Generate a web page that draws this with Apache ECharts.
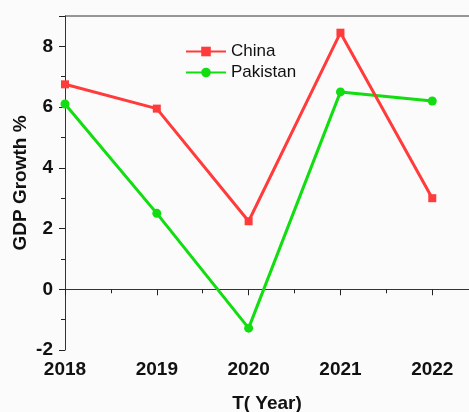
<!DOCTYPE html>
<html>
<head>
<meta charset="utf-8">
<script src="https://cdn.jsdelivr.net/npm/echarts@6/dist/echarts.min.js"></script>
<style>
    html, body { margin: 0; padding: 0; background: #fbfbfb; }
    #chart { width: 469px; height: 412px; }
</style>
</head>
<body>
<div id="chart"></div>
<script>
const years = [2018, 2019, 2020, 2021, 2022];
const chinaGrowth = [6.75, 5.95, 2.24, 8.45, 3.0];
const pakistanGrowth = [6.1, 2.5, -1.28, 6.5, 6.2];
const yTicks = [-2, 0, 2, 4, 6, 8];

const toPairs = vals => years.map((y, i) => [y, vals[i]]);

window.onload = () => {
    let chart = echarts.init(document.getElementById('chart'));
    let labelFont = {
        fontFamily: 'Liberation Sans, Arial, sans-serif',
        fontWeight: 'bold',
        fontSize: 19,
        color: '#111'
    };
    let option = {
        backgroundColor: '#fbfbfb',
        animation: false,
        grid: { left: 65, right: 0, top: 16, bottom: 62, outerBoundsMode: 'none', containLabel: false },
        legend: {
            orient: 'vertical',
            left: 180,
            top: 38,
            itemWidth: 40,
            itemHeight: 12,
            itemGap: 4,
            textStyle: { fontFamily: 'Liberation Sans, Arial, sans-serif', fontSize: 17, color: '#111' },
            data: ['China', 'Pakistan']
        },
        xAxis: {
            type: 'value',
            min: 2018,
            max: 2022.4,
            interval: 1,
            name: 'T( Year)',
            nameLocation: 'middle',
            nameGap: 44,
            nameMoveOverlap: false,
            nameTextStyle: labelFont,
            axisLine: { show: true, lineStyle: { color: '#333', width: 1 } },
            axisTick: { show: true, inside: false, length: 6, lineStyle: { color: '#222' } },
            minorTick: { show: true, splitNumber: 2, length: 4, lineStyle: { color: '#222' } },
            axisLabel: {
                ...labelFont,
                margin: 10,
                showMaxLabel: false,
                formatter: v => (Number.isInteger(v) ? String(v) : '')
            },
            splitLine: { show: false }
        },
        yAxis: {
            type: 'value',
            min: -2,
            max: 9,
            interval: 2,
            name: 'GDP Growth %',
            nameLocation: 'middle',
            nameGap: 35,
            nameMoveOverlap: false,
            nameTextStyle: labelFont,
            axisLine: { show: true, lineStyle: { color: '#333', width: 1 } },
            axisTick: { show: true, length: 6, lineStyle: { color: '#222' } },
            minorTick: { show: true, splitNumber: 2, length: 4, lineStyle: { color: '#222' } },
            axisLabel: {
                ...labelFont,
                margin: 12,
                showMaxLabel: false,
                formatter: v => (yTicks.includes(v) ? String(v) : '')
            },
            splitLine: { show: false }
        },
        series: [{
            name: 'China',
            type: 'line',
            data: toPairs(chinaGrowth),
            symbol: 'rect',
            symbolSize: 8,
            color: '#ff3b3b',
            lineStyle: { width: 3 },
            z: 3
        }, {
            name: 'Pakistan',
            type: 'line',
            data: toPairs(pakistanGrowth),
            symbol: 'circle',
            symbolSize: 9,
            color: '#11dd11',
            lineStyle: { width: 3 },
            z: 2
        }],
        graphic: [{
            // top border of the frame
            type: 'line',
            shape: { x1: 65, y1: 16, x2: 469, y2: 16 },
            style: { stroke: '#333', lineWidth: 1 }
        }]
    };
    chart.setOption(option);
};
</script>
</body>
</html>
